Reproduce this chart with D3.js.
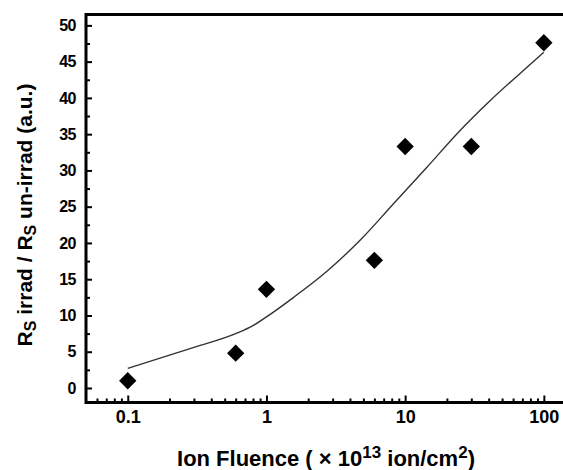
<!DOCTYPE html>
<html>
<head>
<meta charset="utf-8">
<script src="https://cdn.jsdelivr.net/npm/d3@7"></script>
<style>
  body { margin: 0; background: #fff; overflow: hidden; }
  svg { display: block; }
  text { font-family: "Liberation Sans", Arial, sans-serif; font-weight: bold; fill: #000; }
</style>
</head>
<body>
<div id="chart"></div>
<script>
// donnees
const fluence = [0.1, 0.6, 1, 6, 10, 30, 100];
const ratio = [1.0, 4.8, 13.6, 17.6, 33.3, 33.3, 47.6];

// courbe d'ajustement
const fitX = [0.1, 0.3, 0.6, 0.8, 1, 1.57, 2.73, 4.75, 8.24, 14.3, 24.9, 40.9, 93.6, 100];
const fitY = [2.7, 5.6, 7.5, 8.6, 9.8, 12.5, 16.1, 20.4, 25.4, 30.4, 35.5, 39.6, 45.8, 46.3];

const yMajor = [0, 5, 10, 15, 20, 25, 30, 35, 40, 45, 50];
const yMinor = [2.5, 7.5, 12.5, 17.5, 22.5, 27.5, 32.5, 37.5, 42.5, 47.5];
const xMajor = [0.1, 1, 10, 100];
const xMajorLabels = ["0.1", "1", "10", "100"];
const xMinor = [0.06, 0.07, 0.08, 0.09, 0.2, 0.3, 0.4, 0.5, 0.6, 0.7, 0.8, 0.9,
    2, 3, 4, 5, 6, 7, 8, 9, 20, 30, 40, 50, 60, 70, 80, 90];

const width = 563,
    height = 470;

const svg = d3.select("#chart")
    .append("svg")
    .attr("width", width)
    .attr("height", height);

const x = d3.scaleLog()
    .domain([0.05, 200])
    .range([86, 585.6]);

const y = d3.scaleLinear()
    .domain([-2, 51.5])
    .range([402.5, 14.5]);

// ticks mineurs
svg.append("g")
    .attr("transform", `translate(0,${y.range()[0]})`)
    .call(d3.axisBottom(x).tickValues(xMinor).tickSizeInner(-4).tickSizeOuter(0).tickFormat(""))
    .call(g => g.select(".domain").remove())
    .selectAll("line").attr("stroke", "#000").attr("stroke-width", 2);

svg.append("g")
    .attr("transform", `translate(${x.range()[0]},0)`)
    .call(d3.axisLeft(y).tickValues(yMinor).tickSizeInner(-4).tickSizeOuter(0).tickFormat(""))
    .call(g => g.select(".domain").remove())
    .selectAll("line").attr("stroke", "#000").attr("stroke-width", 2);

// ticks majeurs
const xAxis = svg.append("g")
    .attr("transform", `translate(0,${y.range()[0]})`)
    .call(d3.axisBottom(x)
        .tickValues(xMajor)
        .tickSizeInner(-7)
        .tickSizeOuter(0)
        .tickPadding(8)
        .tickFormat((d, i) => xMajorLabels[i]))
    .call(g => g.select(".domain").remove());
xAxis.selectAll("line").attr("stroke", "#000").attr("stroke-width", 2);
xAxis.selectAll("text")
    .style("font-size", "18px")
    .style("font-family", "'Liberation Sans', Arial, sans-serif")
    .style("font-weight", "bold")
    .attr("fill", "#000");

const yAxis = svg.append("g")
    .attr("transform", `translate(${x.range()[0]},0)`)
    .call(d3.axisLeft(y)
        .tickValues(yMajor)
        .tickSizeInner(-6)
        .tickSizeOuter(0)
        .tickPadding(10))
    .call(g => g.select(".domain").remove());
yAxis.selectAll("line").attr("stroke", "#000").attr("stroke-width", 2);
yAxis.selectAll("text")
    .style("font-size", "16px")
    .style("font-family", "'Liberation Sans', Arial, sans-serif")
    .style("font-weight", "bold")
    .style("letter-spacing", "-0.5px")
    .attr("fill", "#000");

// cadre
svg.append("rect")
    .attr("x", x.range()[0])
    .attr("y", y.range()[1])
    .attr("width", x.range()[1] - x.range()[0])
    .attr("height", y.range()[0] - y.range()[1])
    .attr("fill", "none")
    .attr("stroke", "#000")
    .attr("stroke-width", 3);

// courbe
const fit = fitX.map((d, i) => ({ x: d, y: fitY[i] }));
svg.append("path")
    .datum(fit)
    .attr("fill", "none")
    .attr("stroke", "#333")
    .attr("stroke-width", 1.4)
    .attr("d", d3.line()
        .x(d => x(d.x))
        .y(d => y(d.y))
        .curve(d3.curveMonotoneX));

// points (losanges)
const pts = fluence.map((d, i) => ({ x: d, y: ratio[i] }));
svg.append("g")
    .selectAll("path")
    .data(pts)
    .join("path")
    .attr("d", d3.symbol().type(d3.symbolSquare).size(150))
    .attr("transform", d => `translate(${x(d.x)},${y(d.y)}) rotate(45)`)
    .attr("fill", "#000");

// titres des axes
const xTitle = svg.append("text")
    .attr("x", 326)
    .attr("y", 466)
    .attr("text-anchor", "middle")
    .style("font-size", "22px");
xTitle.append("tspan").text("Ion Fluence ( × 10");
xTitle.append("tspan").attr("dy", -8).style("font-size", "17px").text("13");
xTitle.append("tspan").attr("dy", 8).text(" ion/cm");
xTitle.append("tspan").attr("dy", -8).style("font-size", "17px").text("2");
xTitle.append("tspan").attr("dy", 8).text(")");

const yTitle = svg.append("text")
    .attr("transform", "translate(32,215) rotate(-90)")
    .attr("text-anchor", "middle")
    .style("font-size", "21px");
yTitle.append("tspan").text("R");
yTitle.append("tspan").attr("dy", 4).style("font-size", "16px").text("S");
yTitle.append("tspan").attr("dy", -4).text(" irrad / R");
yTitle.append("tspan").attr("dy", 4).style("font-size", "16px").text("S");
yTitle.append("tspan").attr("dy", -4).text(" un-irrad (a.u.)");
</script>
</body>
</html>
